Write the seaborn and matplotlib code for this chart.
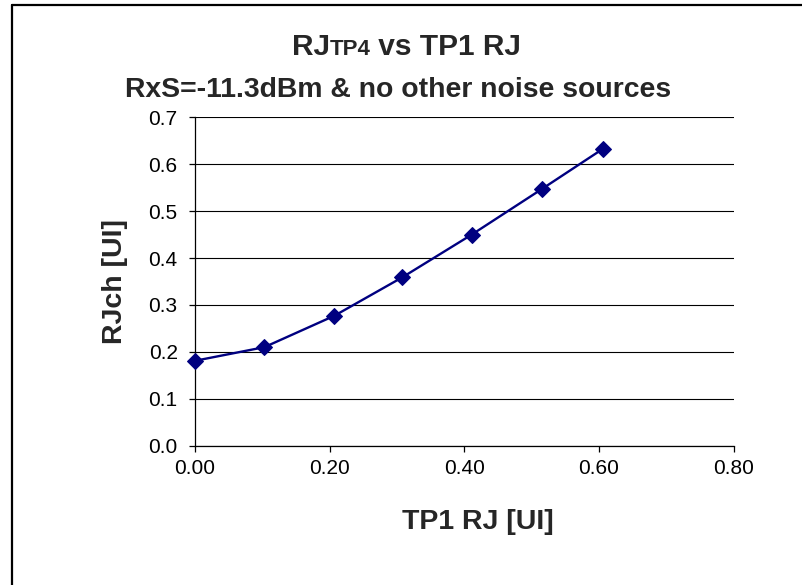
import matplotlib
matplotlib.use("Agg")
import matplotlib.pyplot as plt
import seaborn as sns
import pandas as pd
from matplotlib.lines import Line2D

# ---- data ----
tp1_rj = [0.0, 0.103, 0.207, 0.308, 0.411, 0.515, 0.606]
rj_ch = [0.181, 0.210, 0.277, 0.359, 0.450, 0.547, 0.633]
x_ticks = [0.0, 0.2, 0.4, 0.6, 0.8]
x_tick_labels = ["0.00", "0.20", "0.40", "0.60", "0.80"]
y_ticks = [0.0, 0.1, 0.2, 0.3, 0.4, 0.5, 0.6, 0.7]
y_tick_labels = ["0.0", "0.1", "0.2", "0.3", "0.4", "0.5", "0.6", "0.7"]
title_main = "RJ"
title_sub = "TP4"
title_rest = " vs TP1 RJ"
subtitle = "RxS=-11.3dBm & no other noise sources"
x_label = "TP1 RJ [UI]"
y_label = "RJch [UI]"

sns.set_style("white")
plt.rcParams['font.family'] = ['Liberation Sans', 'DejaVu Sans']

W, H = 802, 585
fig = plt.figure(figsize=(W / 100, H / 100), dpi=100)
fig.patch.set_facecolor("white")

left, right, top, bottom = 195, 733.7, 117.3, 445.7
ax = fig.add_axes([left / W, 1 - bottom / H, (right - left) / W, (bottom - top) / H])

df = pd.DataFrame({"x": tp1_rj, "y": rj_ch})
sns.lineplot(data=df, x="x", y="y", ax=ax, color="#000080", linewidth=1.7,
             marker="D", markersize=7.8, markeredgecolor="#000080",
             markerfacecolor="#000080", sort=False)
for ln in ax.lines:
    ln.set_clip_on(False)
    ln.set_zorder(5)

ax.set_xlim(0, 0.8)
ax.set_ylim(0, 0.7)
ax.set_xticks(x_ticks)
ax.set_xticklabels(x_tick_labels)
ax.set_yticks(y_ticks)
ax.set_yticklabels(y_tick_labels)
ax.yaxis.grid(True, color="black", linewidth=0.8)
ax.xaxis.grid(False)
ax.set_axisbelow(True)
for s in ["top", "right"]:
    ax.spines[s].set_visible(False)
for s in ["left", "bottom"]:
    ax.spines[s].set_color("black")
    ax.spines[s].set_linewidth(0.9)
ax.tick_params(axis="both", which="major", bottom=True, left=True, direction="out",
               length=4.5, width=0.9, color="black", labelsize=15, labelcolor="black")
ax.tick_params(axis="y", pad=8)
ax.tick_params(axis="x", pad=5)
ax.set_xlabel("")
ax.set_ylabel("")

# axis labels
fig.text(478 / W, 1 - 522 / H, x_label, ha="center", va="center",
         fontsize=20.5, fontweight="bold")
fig.text(115 / W, 1 - 281 / H, y_label, ha="center", va="center",
         fontsize=20.5, fontweight="bold", rotation=90)

# title line 2
fig.text(398 / W, 1 - 97 / H, subtitle, ha="center", va="baseline",
         fontsize=20.4, fontweight="bold")

# title line 1 composed of three pieces
fig.canvas.draw()
renderer = fig.canvas.get_renderer()
pieces = [(title_main, 21.5), (title_sub, 16), (title_rest, 21.5)]
tmp = []
widths = []
for txt, fs in pieces:
    t = fig.text(0, 0, txt, fontsize=fs, fontweight="bold", va="baseline")
    widths.append(t.get_window_extent(renderer).width)
    tmp.append(t)
total = sum(widths)
x0 = 406.5 - total / 2
for t, w in zip(tmp, widths):
    t.set_position((x0 / W, 1 - 55 / H))
    x0 += w

# chart frame lines (left and top)
fig.add_artist(Line2D([11.5 / W, 11.5 / W], [0, 1 - 5 / H], color="black", linewidth=1.6,
                      transform=fig.transFigure))
fig.add_artist(Line2D([11.5 / W, 1], [1 - 5 / H, 1 - 5 / H], color="black", linewidth=1.6,
                      transform=fig.transFigure))

fig.savefig("out.png", dpi=100, facecolor="white")
